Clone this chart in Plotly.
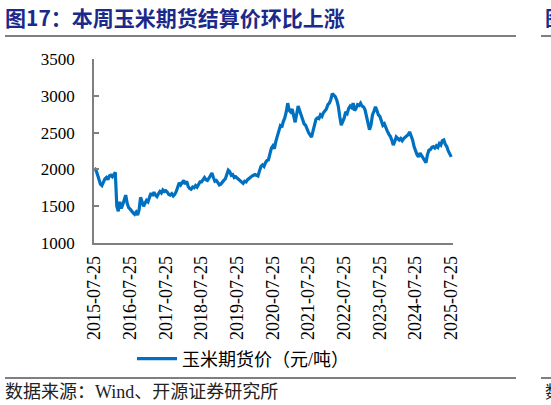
import pandas as pd
import plotly.graph_objects as go

# ---- data (semi-monthly readings, 2015-07-25 .. 2025-07-25) ----
start_date = "2015-07-25"
end_date = "2025-07-25"
corn_futures_price = [
    # 2015-07 .. 2016-07
    2020, 1990, 1930, 1850, 1800, 1780, 1830, 1870, 1890, 1860, 1910, 1920,
    1900, 1930, 1960, 1500, 1430, 1560, 1470, 1520, 1600, 1650, 1540, 1480,
    # 2016-07 .. 2017-07
    1460, 1430, 1410, 1390, 1420, 1380, 1450, 1620, 1560, 1500, 1540, 1580,
    1560, 1620, 1680, 1640, 1690, 1650, 1630, 1670, 1700, 1680, 1720, 1700,
    # 2017-07 .. 2018-07
    1710, 1690, 1660, 1650, 1670, 1640, 1660, 1700, 1760, 1820, 1790, 1830,
    1850, 1800, 1840, 1770, 1740, 1730, 1760, 1750, 1780, 1760, 1800, 1830,
    # 2018-07 .. 2019-07
    1830, 1870, 1890, 1860, 1850, 1880, 1910, 1950, 1890, 1840, 1850, 1810,
    1790, 1800, 1830, 1850, 1870, 1920, 1990, 1970, 1920, 1930, 1890, 1900,
    # 2019-07 .. 2020-07
    1880, 1860, 1840, 1820, 1810, 1840, 1830, 1860, 1880, 1900, 1910, 1920,
    1930, 1920, 1910, 1980, 2040, 2060, 2040, 2090, 2120, 2130, 2200, 2290,
    # 2020-07 .. 2021-07
    2320, 2280, 2380, 2470, 2520, 2590, 2570, 2650, 2700, 2780, 2900, 2800,
    2780, 2820, 2700, 2640, 2750, 2860, 2800, 2730, 2660, 2620, 2600, 2540,
    # 2021-07 .. 2022-07
    2500, 2470, 2440, 2520, 2600, 2680, 2700, 2690, 2740, 2720, 2770, 2800,
    2820, 2880, 2900, 2950, 3030, 3010, 2990, 2940, 2860, 2720, 2600, 2650,
    # 2022-07 .. 2023-07
    2700, 2780, 2760, 2830, 2860, 2840, 2900, 2800, 2830, 2880, 2870, 2900,
    2860, 2850, 2810, 2720, 2640, 2540, 2600, 2740, 2790, 2850, 2800, 2740,
    # 2023-07 .. 2024-07
    2720, 2660, 2600, 2620, 2560, 2520, 2480, 2450, 2400, 2330, 2380, 2440,
    2420, 2400, 2420, 2390, 2420, 2440, 2450, 2470, 2510, 2460, 2400, 2310,
    # 2024-07 .. 2025-07
    2250, 2200, 2170, 2220, 2190, 2150, 2120, 2090, 2200, 2260, 2270, 2300,
    2310, 2290, 2320, 2300, 2350, 2330, 2390, 2400, 2340, 2310, 2250, 2200,
    2170,
]
dates = pd.date_range(start_date, end_date, periods=len(corn_futures_price))

tick_dates = ["2015-07-25", "2016-07-25", "2017-07-25", "2018-07-25", "2019-07-25",
              "2020-07-25", "2021-07-25", "2022-07-25", "2023-07-25", "2024-07-25",
              "2025-07-25"]
y_ticks = [1000, 1500, 2000, 2500, 3000, 3500]

series_name = "玉米期货价（元/吨）"
title_text = "图17：本周玉米期货结算价环比上涨"
source_text = "数据来源：Wind、开源证券研究所"

SERIF = "Liberation Serif, Times New Roman, Noto Sans CJK SC, serif"
NAVY = "#1B2A8A"
GRAY = "#7F7F7F"

fig = go.Figure()
fig.add_trace(go.Scatter(
    x=dates, y=corn_futures_price, mode="lines", name=series_name,
    line=dict(color="#0070C0", width=3.2),
))

# plot area: x 94..453 px, y 59..243 px
L, R, T, B = 94, 98, 59, 162
W, H = 551, 405
pw, ph = W - L - R, H - T - B

def px(x):
    return (x - L) / pw

def py(y):
    return (H - B - y) / ph

shapes = []
for yy in (36, 378):
    shapes.append(dict(type="line", xref="paper", yref="paper",
                       x0=px(5), x1=px(516), y0=py(yy), y1=py(yy),
                       line=dict(color="#555555", width=1.5)))
    shapes.append(dict(type="line", xref="paper", yref="paper",
                       x0=px(541), x1=px(560), y0=py(yy), y1=py(yy),
                       line=dict(color="#555555", width=1.5)))

annotations = [
    dict(text=title_text, xref="paper", yref="paper", x=px(3), y=py(17),
         xanchor="left", yanchor="middle", showarrow=False,
         font=dict(family="Noto Sans CJK SC", size=21, color=NAVY, weight="bold")),
    dict(text="图", xref="paper", yref="paper", x=px(543), y=py(17),
         xanchor="left", yanchor="middle", showarrow=False,
         font=dict(family="Noto Sans CJK SC", size=20, color=NAVY, weight="bold")),
    dict(text=source_text, xref="paper", yref="paper", x=px(3), y=py(392),
         xanchor="left", yanchor="middle", showarrow=False,
         font=dict(family=SERIF, size=18, color="#222222")),
    dict(text="数", xref="paper", yref="paper", x=px(543), y=py(392),
         xanchor="left", yanchor="middle", showarrow=False,
         font=dict(family=SERIF, size=17, color="#222222")),
]

fig.update_layout(
    width=W, height=H,
    margin=dict(l=L, r=R, t=T, b=B, autoexpand=False),
    paper_bgcolor="white", plot_bgcolor="white",
    font=dict(family=SERIF, size=16, color="black"),
    showlegend=True,
    legend=dict(orientation="h", x=px(132), y=py(359), xanchor="left", yanchor="middle",
                itemwidth=40,
                font=dict(family=SERIF, size=18, color="black"),
                bgcolor="rgba(0,0,0,0)"),
    shapes=shapes,
    annotations=annotations,
)
fig.update_xaxes(
    type="date", range=["2015-07-20", "2025-08-12"],
    tickvals=tick_dates, ticktext=tick_dates, tickangle=-90,
    showgrid=False, zeroline=False, showline=True, linecolor=GRAY, linewidth=1.5,
    ticks="", ticklabelstandoff=4, tickfont=dict(family=SERIF, size=18, color="black"),
)
fig.update_yaxes(
    range=[1000, 3500], tickvals=y_ticks,
    showgrid=False, zeroline=False, showline=True, linecolor=GRAY, linewidth=1.5,
    ticks="inside", ticklen=5, tickcolor=GRAY, tickwidth=1.5,
    ticklabelstandoff=14,
    tickfont=dict(family=SERIF, size=17, color="black"),
)

fig.write_html("out.html", config={"displayModeBar": False},
               post_script="document.body.style.margin='0px';")
